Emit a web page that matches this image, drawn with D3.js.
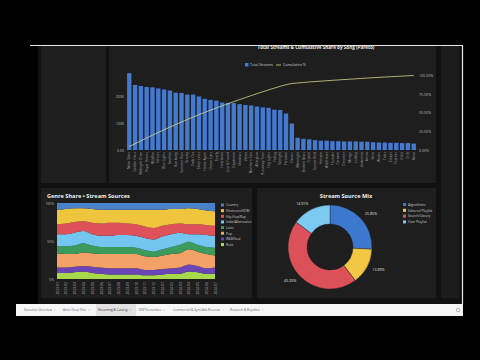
<!DOCTYPE html>
<html><head><meta charset="utf-8">
<script src="https://cdn.jsdelivr.net/npm/d3@7"></script>
<style>body{margin:0;background:#000}svg{display:block;font-family:"Open Sans",sans-serif}</style>
</head><body><svg id="c" width="480" height="360"></svg>
<script>
const songs=["Neon Skies","Golden Hour","Midnight Drive","Paper Hearts","Wildfire","Echoes","Blue Lights","Satellite","Run Away","Summer Rain","Gravity","Fade Out","Silver Lines","Home Again","Ocean Eyes","Firefly","Heartbeat","Lost & Found","Daydream","Shadows","Velvet","Northern Star","Afterglow","Runaway Train","City Lights","Falling","Starlight","Paradise","Electric","Moonlight","Broken Glass","Crystal","Sunset Blvd","Horizon","Wild Heart","Thunder","Caravan","Dreamer","Mirage","Lullaby","Undertow","Arrow","Glow","Waves","Tides","Ember","Feather","Orbit","Drift","Nova"];
const streams=[288,244,240,236,235,231,227,223,215,214,208,208,201,192,188,185,178,177,176,172,169,167,163,160,158,151,150,137,99,46,42,40,37,35,35,33,33,32,32,32,31,31,29,28,28,27,27,26,26,24];
const streamTicks=[0,100,200];
const streamTickLabels=["0.00","100K","200K"];
const pctTicks=[0,0.25,0.5,0.75,1];
const pctTickLabels=["0.00%","25.00%","50.00%","75.00%","100.00%"];

const months=["2023-01","2023-02","2023-03","2023-04","2023-05","2023-06","2023-07","2023-08","2023-09","2023-10","2023-11","2023-12","2024-01","2024-02","2024-03","2024-04","2024-05","2024-06","2024-07"];
const genres=["Country","Electronic/EDM","Hip-Hop/Rap","Indie/Alternative","Latin","Pop","R&B/Soul","Rock"];
const country=[9,8,7,7,8,9,9,9,9,9,9,9,9,8,8,7,8,10,11];
const electronic=[19,19,18,17,18,18,17,17,18,19,22,24,21,20,19,21,20,19,19];
const hiphop=[13,14,14,13,15,16,17,16,15,15,15,15,14,13,12,13,13,13,13];
const indie=[16,16,17,16,15,15,15,16,16,16,16,16,17,17,16,10,14,16,16];
const latin=[9,10,11,12,10,9,9,9,9,8,8,7,8,9,11,10,9,9,10];
const pop=[19,18,17,18,18,18,19,19,19,19,18,17,18,19,19,20,19,19,16];
const rnb=[7,7,7,7,8,8,8,8,8,8,7,7,7,7,8,9,8,7,8];
const rock=[8,8,9,10,8,7,6,6,6,6,5,5,6,7,7,10,9,7,7];
const genreSeries=[country,electronic,hiphop,indie,latin,pop,rnb,rock];
const genreColors=["#4a80c8","#f0c53e","#de515b","#72c6f0","#3c9a5c","#f2a266","#6b45b8","#a8d94c"];

const sources=["Algorithmic","Editorial Playlist","Search/Library","User Playlist"];
const sourceShares=[25.85,13.89,45.35,14.91];
const sourceColors=["#3d78cf","#f2c744","#dc505a","#7ccaf2"];

const tabs=["Executive Overview","Artist Deep Dive","Streaming & Catalog","DSP Economics","Commercial & Sync/Ads Revenue","Research & Royalties"];
const tabX=[24,63,98,139,173,230];

const svg=d3.select("#c");
// frame
svg.append("rect").attr("x",38).attr("y",45).attr("width",425).attr("height",259).attr("fill","#111");
svg.append("line").attr("x1",30).attr("x2",463).attr("y1",45.5).attr("y2",45.5).attr("stroke","#e8e8e8").attr("stroke-width",1.2);
svg.append("line").attr("x1",462.5).attr("x2",462.5).attr("y1",45).attr("y2",304).attr("stroke","#e8e8e8").attr("stroke-width",1.2);
// panels
const panel=(x,y,w,h,c)=>svg.append("rect").attr("x",x).attr("y",y).attr("width",w).attr("height",h).attr("fill",c||"#1e1e1e");
panel(41,46,65,137);
panel(109,46,327,137);
panel(41,188,211,110);
panel(257,188,179,110);
panel(441,46,18,252,"#1c1c1c");

// ---- Top Pareto chart
const x=d3.scaleBand().domain(songs).range([126.5,416.5]).paddingInner(0.25).paddingOuter(0.1);
const y=d3.scaleLinear().domain([0,300]).range([150,70]);
const yR=d3.scaleLinear().domain([0,1]).range([150,75.5]);
const gTop=svg.append("g");
gTop.append("text").attr("x",316).attr("y",48.5).attr("text-anchor","middle").attr("font-size",4.6).attr("font-weight","bold").attr("fill","#e6e6e6").text("Total Streams & Cumulative Share by Song (Pareto)");
gTop.selectAll("rect.bar").data(streams).join("rect").attr("class","bar")
 .attr("x",(d,i)=>x(songs[i])).attr("y",d=>y(d)).attr("width",x.bandwidth()).attr("height",d=>y(0)-y(d)).attr("fill","#4479d0");
const total=d3.sum(streams);
let acc=0;const cum=streams.map(v=>(acc+=v)/total);
gTop.append("path").datum(cum).attr("fill","none").attr("stroke","#d8d68e").attr("stroke-width",0.8)
 .attr("d",d3.line().x((d,i)=>x(songs[i])+x.bandwidth()/2).y(d=>yR(d)));
const axL=d3.axisLeft(y).tickValues(streamTicks).tickFormat((d,i)=>streamTickLabels[i]).tickSize(0).tickPadding(2);
const gl=gTop.append("g").attr("transform","translate(126,0)").call(axL);
gl.select(".domain").remove();
gl.selectAll("text").attr("font-size",3.6).attr("fill","#bbb").attr("font-family","Open Sans");
const axR=d3.axisRight(yR).tickValues(pctTicks).tickFormat((d,i)=>pctTickLabels[i]).tickSize(0).tickPadding(2);
const gr=gTop.append("g").attr("transform","translate(417,0)").call(axR);
gr.select(".domain").remove();
gr.selectAll("text").attr("font-size",3.6).attr("fill","#bbb").attr("font-family","Open Sans");
const axB=d3.axisBottom(x).tickSize(0).tickPadding(2);
const gb=gTop.append("g").attr("transform","translate(0,152)").call(axB);
gb.select(".domain").remove();
gb.selectAll("text").attr("font-size",3.3).attr("fill","#a0a0a0").attr("font-family","Open Sans")
 .attr("text-anchor","end").attr("x",0).attr("y",0).attr("dx","0").attr("dy","0.35em").attr("transform","rotate(-90)");
// legend
gTop.append("rect").attr("x",245).attr("y",63).attr("width",3.5).attr("height",3.5).attr("fill","#4479d0");
gTop.append("text").attr("x",250).attr("y",66.3).attr("font-size",3.6).attr("fill","#ccc").text("Total Streams");
gTop.append("line").attr("x1",276).attr("x2",281).attr("y1",65).attr("y2",65).attr("stroke","#d8d68e").attr("stroke-width",0.8);
gTop.append("text").attr("x",283).attr("y",66.3).attr("font-size",3.6).attr("fill","#ccc").text("Cumulative %");

// ---- Stream (100% area) chart
const table=months.map((m,i)=>{const o={month:m};genres.forEach((g,k)=>o[g]=genreSeries[k][i]);return o;});
const stack=d3.stack().keys(genres.slice().reverse()).offset(d3.stackOffsetExpand);
const layers=stack(table);
const xs=d3.scalePoint().domain(months).range([57,215]);
const ys=d3.scaleLinear().domain([0,1]).range([279,203]);
const gS=svg.append("g");
gS.append("text").attr("x",47).attr("y",198).attr("font-size",5.6).attr("font-weight","bold").attr("fill","#f0f0f0").text("Genre Share • Stream Sources");
const area=d3.area().x(d=>xs(d.data.month)).y0(d=>ys(d[0])).y1(d=>ys(d[1])).curve(d3.curveMonotoneX);
gS.selectAll("path.l").data(layers).join("path").attr("class","l").attr("d",area)
 .attr("fill",d=>genreColors[genres.indexOf(d.key)]);
const aySL=d3.axisLeft(ys).tickValues([0,0.5,1]).tickFormat(d3.format(".0%")).tickSize(0).tickPadding(2);
const gsl=gS.append("g").attr("transform","translate(56,0)").call(aySL);
gsl.select(".domain").remove();
gsl.selectAll("text").attr("font-size",3.4).attr("fill","#bbb").attr("font-family","Open Sans");
const gsb=gS.append("g").attr("transform","translate(0,281)").call(d3.axisBottom(xs).tickSize(0).tickPadding(1));
gsb.select(".domain").remove();
gsb.selectAll("text").attr("font-size",3.4).attr("fill","#aaa").attr("font-family","Open Sans")
 .attr("text-anchor","end").attr("x",0).attr("y",0).attr("dx","-0.3em").attr("dy","0.35em").attr("transform","rotate(-90)");
const lg=gS.selectAll("g.lg").data(genres).join("g").attr("class","lg").attr("transform",(d,i)=>`translate(221,${203.5+i*5.65})`);
lg.append("rect").attr("width",3).attr("height",3).attr("fill",(d,i)=>genreColors[i]);
lg.append("text").attr("x",5).attr("y",2.8).attr("font-size",3.3).attr("fill","#ccc").text(d=>d);

// ---- Donut
const gD=svg.append("g");
gD.append("text").attr("x",346).attr("y",198).attr("text-anchor","middle").attr("font-size",5.6).attr("font-weight","bold").attr("fill","#f0f0f0").text("Stream Source Mix");
const pie=d3.pie().sort(null).value(d=>d);
const arcs=pie(sourceShares);
const arc=d3.arc().innerRadius(23).outerRadius(42);
const lab=d3.arc().innerRadius(48).outerRadius(48);
const gc=gD.append("g").attr("transform","translate(330,247)");
gc.selectAll("path").data(arcs).join("path").attr("d",arc).attr("fill",(d,i)=>sourceColors[i]).attr("stroke","#1e1e1e").attr("stroke-width",0.4);
gc.selectAll("text").data(arcs).join("text")
 .attr("transform",d=>`translate(${lab.centroid(d)})`)
 .attr("text-anchor",d=>((d.startAngle+d.endAngle)/2<Math.PI)?"start":"end")
 .attr("dy","0.35em").attr("font-size",3.6).attr("fill","#e0e0e0").text((d,i)=>sourceShares[i].toFixed(2)+"%");
const ld=gD.selectAll("g.ld").data(sources).join("g").attr("class","ld").attr("transform",(d,i)=>`translate(403,${203+i*5.8})`);
ld.append("rect").attr("width",3).attr("height",3).attr("fill",(d,i)=>sourceColors[i]);
ld.append("text").attr("x",5).attr("y",2.8).attr("font-size",3.3).attr("fill","#ccc").text(d=>d);

// ---- Tab bar
const gT=svg.append("g");
gT.append("rect").attr("x",16).attr("y",304).attr("width",447).attr("height",12).attr("fill","#f6f6f6");
gT.append("rect").attr("x",96).attr("y",304).attr("width",40).attr("height",12).attr("fill","#e2e2e2");
tabs.forEach((t,i)=>{
  const tx=gT.append("text").attr("x",tabX[i]).attr("y",311.2).attr("font-size",3.1).attr("fill",i===2?"#333":"#666").text(t);
  const w=tx.node().getComputedTextLength();
  gT.append("text").attr("x",tabX[i]+w+2).attr("y",311.2).attr("font-size",2.8).attr("fill","#999").text("×");
});
gT.append("circle").attr("cx",458).attr("cy",310).attr("r",1.8).attr("fill","none").attr("stroke","#777").attr("stroke-width",0.5);
</script></body></html>
